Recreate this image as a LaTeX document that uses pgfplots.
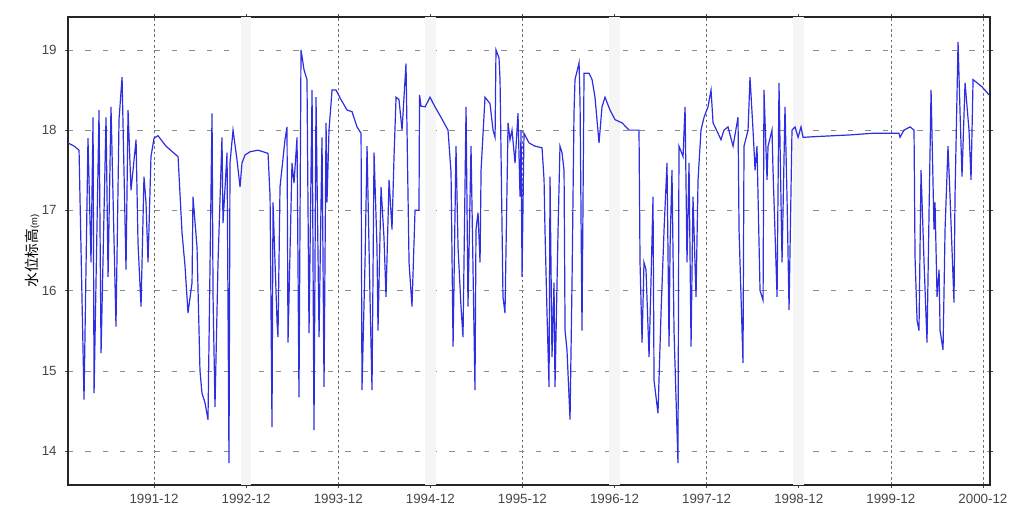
\documentclass[border=0pt]{standalone}
\usepackage{fontspec}
\setmainfont{Liberation Sans}
\newfontfamily\cjk{Noto Sans CJK SC}
\usepackage{pgfplots}
\pgfplotsset{compat=1.18}
\definecolor{level}{RGB}{45,45,225}
\definecolor{ticktext}{RGB}{70,70,70}
\begin{document}
\begin{tikzpicture}
\useasboundingbox (-51pt,-20.25pt) rectangle (706.5pt,363.75pt);
\begin{axis}[
  at={(0,0)}, anchor=south west,
  scale only axis, width=691.5pt, height=351pt,
  xmin=1990.983, xmax=2000.994, ymin=13.576, ymax=19.41,
  xtick={1991.917,1992.917,1993.917,1994.917,1995.917,1996.917,1997.917,1998.917,1999.917,2000.917},
  xticklabels={1991-12,1992-12,1993-12,1994-12,1995-12,1996-12,1997-12,1998-12,1999-12,2000-12},
  ytick={14,15,16,17,18,19},
  extra x ticks={1992.917,1994.917,1996.917,1998.917},
  extra x tick labels={},
  extra x tick style={xmajorgrids=true, x grid style={black!4, solid, line width=8pt}, major tick length=0pt},
  /pgf/number format/assume math mode=true,
  ticklabel style={font=\fontsize{10}{12}\selectfont, text=ticktext},
  yticklabel style={xshift=-3pt},
  xticklabel style={yshift=-1pt},
  tick align=outside, major tick length=2pt,
  tick style={ticktext, line width=0.4pt},
  grid=major,
  x grid style={black!55, dash pattern=on 2pt off 2pt, line width=0.4pt},
  y grid style={black!45, dash pattern=on 4pt off 9pt, line width=0.4pt},
  axis line style={black!85, line width=0.9pt},
  ylabel={{\cjk\fontsize{11}{12}\selectfont 水位标高}{\fontsize{7}{8}\selectfont (m)}},
  every axis y label/.style={at={(axis description cs:-0.039,0.5)}, rotate=90, anchor=center},
]
\addplot[level, line width=0.9pt] coordinates {
(1990.983,17.84) (1991.050,17.80) (1991.103,17.75) (1991.157,14.64) (1991.200,17.90)
(1991.233,16.35) (1991.255,18.16) (1991.266,14.72) (1991.320,18.25) (1991.342,15.22)
(1991.396,18.16) (1991.418,16.17) (1991.450,18.29) (1991.504,15.55) (1991.537,18.13)
(1991.570,18.66) (1991.613,16.26) (1991.635,18.25) (1991.667,17.25) (1991.722,17.88)
(1991.743,16.60) (1991.776,15.80) (1991.808,17.42) (1991.830,17.10) (1991.852,16.35)
(1991.884,17.67) (1991.917,17.90) (1991.960,17.93) (1992.047,17.80) (1992.156,17.69)
(1992.178,17.67) (1992.221,16.72) (1992.254,16.30) (1992.286,15.72) (1992.330,16.10)
(1992.340,17.17) (1992.384,16.54) (1992.416,15.00) (1992.438,14.72) (1992.471,14.60)
(1992.503,14.39) (1992.547,18.21) (1992.558,15.92) (1992.579,14.55) (1992.612,16.35)
(1992.655,17.91) (1992.666,16.84) (1992.710,17.72) (1992.731,13.85) (1992.742,17.59)
(1992.775,18.00) (1992.818,17.63) (1992.851,17.29) (1992.872,17.59) (1992.905,17.69)
(1992.959,17.73) (1993.046,17.75) (1993.155,17.71) (1993.177,17.17) (1993.198,14.30)
(1993.209,17.10) (1993.253,15.60) (1993.263,15.42) (1993.285,17.29) (1993.339,17.88)
(1993.361,18.04) (1993.372,15.35) (1993.415,17.59) (1993.437,17.34) (1993.470,17.91)
(1993.491,14.67) (1993.513,19.00) (1993.546,18.75) (1993.578,18.63) (1993.600,15.47)
(1993.633,18.50) (1993.654,14.26) (1993.676,18.41) (1993.709,15.42) (1993.741,17.91)
(1993.763,14.80) (1993.785,18.09) (1993.795,17.10) (1993.817,18.00) (1993.850,18.50)
(1993.893,18.50) (1993.947,18.38) (1994.013,18.25) (1994.067,18.23) (1994.121,18.04)
(1994.165,17.96) (1994.175,14.76) (1994.208,16.35) (1994.230,17.80) (1994.262,15.92)
(1994.284,14.76) (1994.306,17.72) (1994.338,16.54) (1994.349,15.50) (1994.382,17.29)
(1994.414,16.66) (1994.436,15.92) (1994.469,17.38) (1994.501,16.76) (1994.523,17.67)
(1994.545,18.41) (1994.577,18.38) (1994.610,18.00) (1994.653,18.83) (1994.686,16.35)
(1994.718,15.80) (1994.751,17.00) (1994.794,17.00) (1994.800,18.44) (1994.816,18.30)
(1994.860,18.29) (1994.914,18.41) (1994.968,18.29) (1995.033,18.16) (1995.109,18.00)
(1995.142,17.47) (1995.164,15.30) (1995.196,17.80) (1995.218,16.54) (1995.250,15.80)
(1995.272,15.42) (1995.305,18.29) (1995.326,15.80) (1995.359,17.80) (1995.402,14.76)
(1995.413,16.76) (1995.435,16.97) (1995.457,16.35) (1995.468,17.50) (1995.511,18.41)
(1995.565,18.33) (1995.598,18.00) (1995.620,17.91) (1995.630,19.00) (1995.663,18.90)
(1995.674,18.63) (1995.706,15.92) (1995.728,15.72) (1995.761,18.09) (1995.782,17.88)
(1995.804,18.00) (1995.837,17.59) (1995.869,18.21) (1995.891,17.17) (1995.902,18.00)
(1995.913,16.17) (1995.934,17.96) (1995.989,17.84) (1996.054,17.80) (1996.130,17.78)
(1996.152,17.38) (1996.162,16.76) (1996.184,15.72) (1996.206,14.80) (1996.217,17.42)
(1996.238,15.17) (1996.260,16.10) (1996.271,14.80) (1996.304,16.76) (1996.325,17.80)
(1996.347,17.72) (1996.369,17.50) (1996.380,15.50) (1996.401,15.26) (1996.434,14.39)
(1996.456,16.13) (1996.477,18.21) (1996.488,18.63) (1996.532,18.84) (1996.543,18.33)
(1996.564,15.50) (1996.586,18.71) (1996.640,18.71) (1996.673,18.63) (1996.705,18.41)
(1996.749,17.84) (1996.781,18.29) (1996.814,18.41) (1996.868,18.25) (1996.923,18.13)
(1996.999,18.09) (1997.075,18.00) (1997.140,18.00) (1997.183,18.00) (1997.194,16.35)
(1997.216,15.35) (1997.237,16.35) (1997.259,16.26) (1997.292,15.17) (1997.313,16.10)
(1997.335,17.17) (1997.346,14.88) (1997.389,14.47) (1997.422,15.72) (1997.455,16.76)
(1997.487,17.59) (1997.509,15.30) (1997.520,16.54) (1997.541,17.50) (1997.563,15.50)
(1997.606,13.85) (1997.617,17.80) (1997.661,17.67) (1997.683,18.29) (1997.704,16.35)
(1997.726,17.59) (1997.748,15.30) (1997.769,17.17) (1997.802,15.92) (1997.824,17.38)
(1997.856,18.00) (1997.889,18.16) (1997.932,18.29) (1997.965,18.50) (1997.987,18.09)
(1998.041,17.96) (1998.073,17.88) (1998.106,18.00) (1998.149,18.04) (1998.204,17.80)
(1998.258,18.16) (1998.269,16.76) (1998.312,15.10) (1998.323,17.80) (1998.367,18.00)
(1998.388,18.66) (1998.421,18.00) (1998.443,17.50) (1998.464,17.80) (1998.497,16.00)
(1998.530,15.88) (1998.540,18.50) (1998.573,17.38) (1998.584,17.80) (1998.627,18.00)
(1998.638,17.50) (1998.682,15.92) (1998.703,18.59) (1998.736,16.35) (1998.768,18.29)
(1998.790,17.17) (1998.812,15.76) (1998.844,18.00) (1998.877,18.04) (1998.910,17.91)
(1998.942,18.04) (1998.964,17.91) (1999.116,17.92) (1999.474,17.94) (1999.713,17.96)
(2000.006,17.96) (2000.017,17.91) (2000.060,18.00) (2000.126,18.04) (2000.169,18.00)
(2000.180,16.42) (2000.202,15.63) (2000.223,15.50) (2000.245,17.50) (2000.278,16.35)
(2000.310,15.35) (2000.332,16.97) (2000.354,18.50) (2000.386,16.76) (2000.397,17.10)
(2000.419,15.92) (2000.441,16.26) (2000.452,15.50) (2000.484,15.26) (2000.506,16.76)
(2000.538,17.80) (2000.560,17.17) (2000.603,15.85) (2000.614,17.17) (2000.647,19.10)
(2000.669,18.21) (2000.690,17.42) (2000.723,18.59) (2000.766,18.00) (2000.788,17.38)
(2000.810,18.63) (2000.853,18.59) (2000.907,18.54) (2000.983,18.44)
};
\end{axis}
\end{tikzpicture}
\end{document}
